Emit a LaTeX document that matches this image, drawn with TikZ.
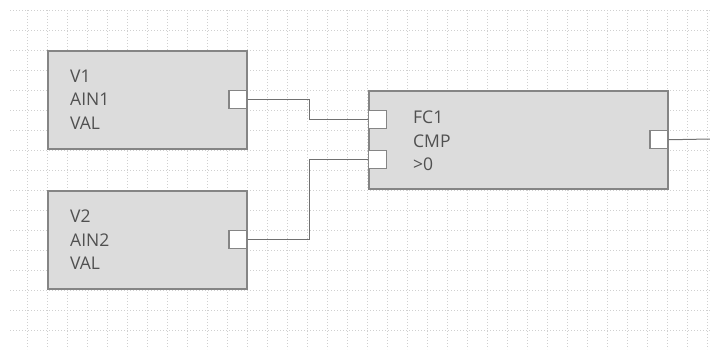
\documentclass[tikz,border=0pt]{standalone}
\usepackage{fontspec}
\setmainfont{Open Sans}
\usetikzlibrary{positioning}

\definecolor{gridcol}{HTML}{D0D0D0}
\definecolor{boxfill}{HTML}{DCDCDC}
\definecolor{boxline}{HTML}{858585}
\definecolor{wirecol}{HTML}{707070}
\definecolor{txtcol}{HTML}{505050}

\begin{document}
\begin{tikzpicture}[x=1pt, y=-1pt,
    gridline/.style={draw=gridcol, line width=0.9pt, dash pattern=on 1pt off 2pt},
    block/.style={rectangle, draw=boxline, line width=1.5pt, fill=boxfill, anchor=north west, inner sep=0, minimum height=98pt},
    port/.style={rectangle, draw=boxline, line width=1.2pt, fill=white, minimum size=18pt, inner sep=0},
    wire/.style={draw=wirecol, line width=1pt},
    blocktext/.style={anchor=north west, align=left, inner sep=0, text=txtcol, font=\fontsize{17.5}{23.5}\selectfont}]
    \useasboundingbox (0,0) rectangle (710,349);

    % background grid
    \foreach \y in {10,30,...,330}
        \draw[gridline] (10,\y) -- (710,\y);
    \foreach \x in {27,47,...,707}
        \draw[gridline] (\x,10) -- (\x,349);

    % blocks
    \node(v1) [block, minimum width=199pt] at (47,50) {};
    \node(v2) [block, minimum width=199pt] at (47,190) {};
    \node(fc1) [block, minimum width=299pt] at (368,90) {};

    \node(v1txt) [blocktext] at (70,69.5) {V1\\AIN1\\VAL};
    \node(v2txt) [blocktext] at (70,210) {V2\\AIN2\\VAL};
    \node(fc1txt) [blocktext] at (413,111) {FC1\\CMP\\>0};

    % ports
    \node(v1out) [port, anchor=east] at (v1.east) {};
    \node(v2out) [port, anchor=east] at (v2.east) {};
    \node(fcin1) [port, anchor=west] at ([yshift=20pt]fc1.west) {};
    \node(fcin2) [port, anchor=west] at ([yshift=-20pt]fc1.west) {};
    \node(fcout) [port, anchor=east] at (fc1.east) {};

    % wires
    \coordinate(outend) at (710,139);
    \draw[wire] (v1out.east) -- ++(62,0) |- (fcin1.west);
    \draw[wire] (v2out.east) -- ++(62,0) |- (fcin2.west);
    \draw[wire] (fcout.east) -- (outend);
\end{tikzpicture}
\end{document}
